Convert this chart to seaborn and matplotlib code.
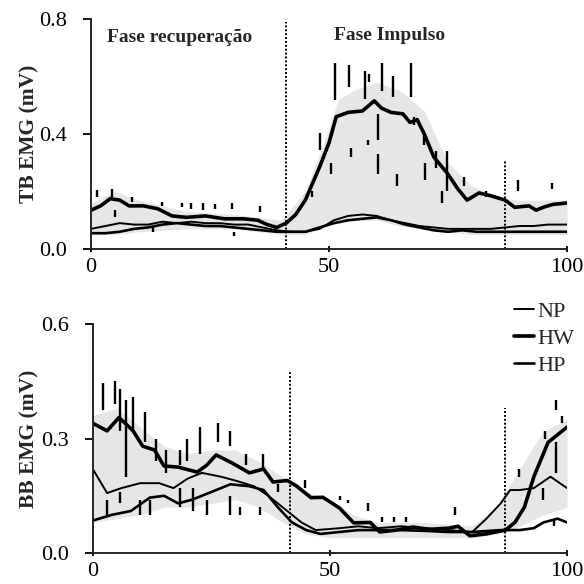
import numpy as np
import pandas as pd
import matplotlib
matplotlib.use("Agg")
import matplotlib.pyplot as plt
import seaborn as sns

# ---------------- data ----------------
series_names = ["NP", "HW", "HP"]

# Top panel: TB EMG (mV)
tb_hw_x = [0, 2, 4, 6, 8, 11, 14, 17, 20, 24, 28, 32, 35, 37, 39, 41, 43, 45, 48, 50, 51.5, 54, 57,
           59.5, 61, 63, 65.5, 67, 68.5, 70, 72, 75, 77, 79, 81.5, 84, 87, 89, 92, 93.5, 95, 97, 100]
tb_hw_y = [0.135, 0.15, 0.175, 0.17, 0.15, 0.15, 0.14, 0.115, 0.11, 0.115, 0.105, 0.105, 0.1, 0.085,
           0.075, 0.09, 0.12, 0.17, 0.285, 0.37, 0.46, 0.475, 0.48, 0.515, 0.49, 0.475, 0.47, 0.44,
           0.45, 0.4, 0.32, 0.26, 0.21, 0.17, 0.195, 0.185, 0.17, 0.145, 0.15, 0.135, 0.145, 0.155, 0.16]
tb_low_x = [0, 3, 6, 9, 12, 15, 18, 21, 24, 27, 30, 33, 36, 39, 42, 45, 48, 51, 54, 57, 60, 63, 66,
            69, 72, 75, 78, 81, 84, 87, 90, 93, 96, 100]
tb_np_y = [0.07, 0.08, 0.09, 0.085, 0.085, 0.095, 0.09, 0.095, 0.09, 0.09, 0.085, 0.085, 0.075, 0.065,
           0.06, 0.06, 0.07, 0.1, 0.115, 0.12, 0.115, 0.1, 0.09, 0.08, 0.075, 0.07, 0.07, 0.07, 0.07,
           0.075, 0.08, 0.08, 0.085, 0.085]
tb_hp_y = [0.055, 0.055, 0.06, 0.07, 0.075, 0.085, 0.09, 0.085, 0.08, 0.08, 0.075, 0.07, 0.065, 0.06,
           0.06, 0.06, 0.075, 0.09, 0.1, 0.105, 0.11, 0.1, 0.085, 0.075, 0.065, 0.06, 0.065, 0.06,
           0.06, 0.06, 0.06, 0.06, 0.06, 0.06]
tb_band_x = [0, 5, 10, 20, 30, 40, 45, 48, 52, 55, 60, 65, 70, 75, 80, 85, 90, 95, 100]
tb_band_lo = [0.05, 0.05, 0.06, 0.07, 0.07, 0.05, 0.05, 0.07, 0.09, 0.1, 0.1, 0.08, 0.07, 0.06,
              0.05, 0.05, 0.05, 0.05, 0.05]
tb_band_hi = [0.16, 0.2, 0.17, 0.13, 0.12, 0.1, 0.2, 0.33, 0.52, 0.55, 0.58, 0.55, 0.48, 0.3, 0.22,
              0.18, 0.17, 0.17, 0.17]
tb_err_x = [1.2, 4.3, 5, 8.5, 13, 15, 19, 21, 23.5, 26, 29.5, 30, 35.5, 46.5, 48, 50.3, 51.3, 54.2,
            54.6, 57.6, 58.4, 58.1, 60.2, 60.2, 61.1, 63.5, 64.2, 67.3, 67.8, 70, 70.2, 72.5, 73.8,
            74.8, 78.3, 82.9, 89.6, 96.9]
tb_err_lo = [0.18, 0.18, 0.11, 0.165, 0.06, 0.15, 0.145, 0.14, 0.135, 0.14, 0.14, 0.045, 0.13, 0.18,
             0.344, 0.26, 0.518, 0.565, 0.32, 0.52, 0.58, 0.36, 0.38, 0.26, 0.55, 0.53, 0.22, 0.53,
             0.43, 0.36, 0.24, 0.28, 0.16, 0.2, 0.22, 0.18, 0.2, 0.21]
tb_err_hi = [0.205, 0.21, 0.135, 0.18, 0.075, 0.165, 0.16, 0.16, 0.16, 0.155, 0.16, 0.06, 0.15, 0.2,
             0.403, 0.3, 0.647, 0.64, 0.35, 0.62, 0.61, 0.38, 0.47, 0.33, 0.647, 0.6, 0.26, 0.647,
             0.46, 0.4, 0.3, 0.34, 0.2, 0.34, 0.25, 0.2, 0.24, 0.23]

# Bottom panel: BB EMG (mV)
bb_hw_x = [0, 3, 5.5, 8.5, 10.5, 13, 15, 18, 22, 24, 26, 29.5, 33, 36, 38, 41, 43, 46, 48.5, 52, 55,
           58.5, 60.5, 64, 67.5, 71, 75, 77, 79.5, 83, 87, 89, 91, 93, 96, 100]
bb_hw_y = [0.34, 0.32, 0.355, 0.32, 0.28, 0.27, 0.228, 0.225, 0.212, 0.23, 0.257, 0.235, 0.21, 0.22,
           0.186, 0.19, 0.175, 0.145, 0.146, 0.118, 0.079, 0.08, 0.055, 0.06, 0.068, 0.062, 0.065,
           0.07, 0.045, 0.05, 0.06, 0.08, 0.12, 0.2, 0.29, 0.33]
bb_np_x = [0, 3, 6, 10, 14, 17, 20, 23, 27, 30, 34, 37, 40, 42, 44, 47, 52, 56, 60, 65, 70, 75, 80,
           83, 86, 88, 90, 93, 96.5, 100]
bb_np_y = [0.22, 0.157, 0.17, 0.183, 0.183, 0.17, 0.195, 0.21, 0.2, 0.19, 0.175, 0.15, 0.12, 0.1,
           0.08, 0.06, 0.065, 0.07, 0.065, 0.07, 0.065, 0.06, 0.055, 0.09, 0.13, 0.165, 0.165, 0.17,
           0.2, 0.17]
bb_hp_x = [0, 4, 8, 12, 15, 18, 21, 25, 29, 33, 36, 39, 42, 45, 48, 52, 56, 60, 65, 70, 75, 80, 86,
           90, 93, 95, 98, 100]
bb_hp_y = [0.085, 0.1, 0.11, 0.145, 0.15, 0.13, 0.14, 0.16, 0.18, 0.175, 0.165, 0.12, 0.08, 0.06,
           0.05, 0.055, 0.06, 0.06, 0.06, 0.058, 0.055, 0.055, 0.06, 0.06, 0.065, 0.08, 0.09, 0.08]
bb_band_x = [0, 5, 10, 15, 20, 25, 30, 35, 40, 45, 50, 55, 60, 70, 80, 85, 90, 95, 100]
bb_band_lo = [0.08, 0.09, 0.1, 0.12, 0.12, 0.13, 0.14, 0.12, 0.08, 0.05, 0.04, 0.04, 0.04, 0.04,
              0.04, 0.05, 0.07, 0.1, 0.12]
bb_band_hi = [0.36, 0.38, 0.33, 0.28, 0.26, 0.27, 0.27, 0.24, 0.2, 0.16, 0.14, 0.1, 0.08, 0.08,
              0.07, 0.12, 0.22, 0.32, 0.35]
bb_err_x = [2.2, 4.7, 5.7, 7, 8.5, 11, 13.4, 15.5, 18.4, 19.8, 22.6, 26.4, 28.9, 32.4, 35.9, 39.1,
            2.9, 5.7, 10, 12, 18.4, 21.2, 24, 29, 31, 35.3,
            44.7, 52.1, 53.8, 58, 61, 63.5, 66, 76.3, 89.9, 94.9, 95.4, 97.2, 97.6, 97.6, 99]
bb_err_lo = [0.375, 0.39, 0.32, 0.2, 0.32, 0.29, 0.24, 0.21, 0.23, 0.24, 0.26, 0.29, 0.28, 0.23,
             0.22, 0.16, 0.1, 0.13, 0.1, 0.1, 0.12, 0.11, 0.1, 0.1, 0.1, 0.1,
             0.17, 0.14, 0.13, 0.11, 0.08, 0.08, 0.08, 0.1, 0.2, 0.14, 0.3, 0.07, 0.21, 0.375, 0.34]
bb_err_hi = [0.445, 0.45, 0.43, 0.4, 0.41, 0.37, 0.3, 0.27, 0.27, 0.3, 0.33, 0.34, 0.32, 0.26,
             0.26, 0.18, 0.14, 0.16, 0.14, 0.14, 0.17, 0.17, 0.14, 0.15, 0.12, 0.12,
             0.19, 0.15, 0.14, 0.13, 0.095, 0.095, 0.095, 0.12, 0.22, 0.17, 0.32, 0.09, 0.29, 0.40, 0.36]

phase_lines_top = [41, 87]
phase_tops_top = [0.79, 0.31]
phase_lines_bot = [41.5, 87]
phase_tops_bot = [0.48, 0.38]

x_ticks = [0, 50, 100]
tb_yticks = [0.0, 0.4, 0.8]
bb_yticks = [0.0, 0.3, 0.6]

# ---------------- styling ----------------
sns.set_theme(style="ticks")
plt.rcParams["font.family"] = ["Liberation Serif", "DejaVu Serif"]
plt.rcParams["axes.linewidth"] = 1.4

fig = plt.figure(figsize=(5.84, 5.84), dpi=100)
ax1 = fig.add_axes([0.156, 0.5736, 0.815, 0.394])
ax2 = fig.add_axes([0.159, 0.0531, 0.812, 0.392])

widths = {"NP": 1.4, "HW": 2.6, "HP": 1.9}


def draw_series(ax, xs, ys, name):
    df = pd.DataFrame({"x": xs, "y": ys})
    sns.lineplot(data=df, x="x", y="y", ax=ax, color="black", lw=widths[name],
                 label=name, legend=False)


# Top panel
ax1.fill_between(tb_band_x, tb_band_lo, tb_band_hi, color="#e6e6e6", lw=0, zorder=0)
ax1.vlines(tb_err_x, tb_err_lo, tb_err_hi, color="black", lw=1.7, zorder=1)
draw_series(ax1, tb_low_x, tb_np_y, "NP")
draw_series(ax1, tb_hw_x, tb_hw_y, "HW")
draw_series(ax1, tb_low_x, tb_hp_y, "HP")
for xv, top in zip(phase_lines_top, phase_tops_top):
    ax1.vlines(xv, 0, top, color="black", lw=1.4, linestyles=(0, (1, 1)))

ax1.text(18.7, 0.737, "Fase recuperação", ha="center", va="center",
         fontsize=14, fontweight="bold")
ax1.text(62.8, 0.744, "Fase Impulso", ha="center", va="center",
         fontsize=14, fontweight="bold")

# Bottom panel
ax2.fill_between(bb_band_x, bb_band_lo, bb_band_hi, color="#e6e6e6", lw=0, zorder=0)
ax2.vlines(bb_err_x, bb_err_lo, bb_err_hi, color="black", lw=1.7, zorder=1)
draw_series(ax2, bb_np_x, bb_np_y, "NP")
draw_series(ax2, bb_hw_x, bb_hw_y, "HW")
draw_series(ax2, bb_hp_x, bb_hp_y, "HP")
for xv, top in zip(phase_lines_bot, phase_tops_bot):
    ax2.vlines(xv, 0, top, color="black", lw=1.4, linestyles=(0, (1, 1)))

for ax, yt, lab, lim in [(ax1, tb_yticks, "TB EMG (mV)", 0.8), (ax2, bb_yticks, "BB EMG (mV)", 0.6)]:
    ax.set_xlim(0, 100)
    ax.set_ylim(0, lim)
    ax.set_xticks(x_ticks)
    ax.set_xticklabels([str(v) for v in x_ticks])
    ax.set_yticks(yt)
    ax.set_yticklabels([f"{v:.1f}" for v in yt])
    ax.tick_params(axis="both", labelsize=16, colors="black", width=1.3)
    ax.tick_params(axis="y", length=6, direction="out", pad=11)
    ax.tick_params(axis="x", length=5, direction="inout", pad=4)
    ax.set_xlabel("")
    ax.set_ylabel(lab, fontsize=15.5, fontweight="bold")
    ax.spines["top"].set_visible(False)
    ax.spines["right"].set_visible(False)
    ax.set_facecolor("white")

ax1.yaxis.set_label_coords(-0.108, 0.5)
ax2.yaxis.set_label_coords(-0.112, 0.5)

handles, labels = ax2.get_legend_handles_labels()
ax2.legend(handles, labels, loc="upper right", bbox_to_anchor=(574 / 584, 1 - 301 / 584),
           bbox_transform=fig.transFigure, frameon=False, fontsize=16, handlelength=0.9,
           handletextpad=0.15, labelspacing=0.3, borderpad=0, borderaxespad=0)

fig.savefig("out.png", dpi=100, facecolor="white")
